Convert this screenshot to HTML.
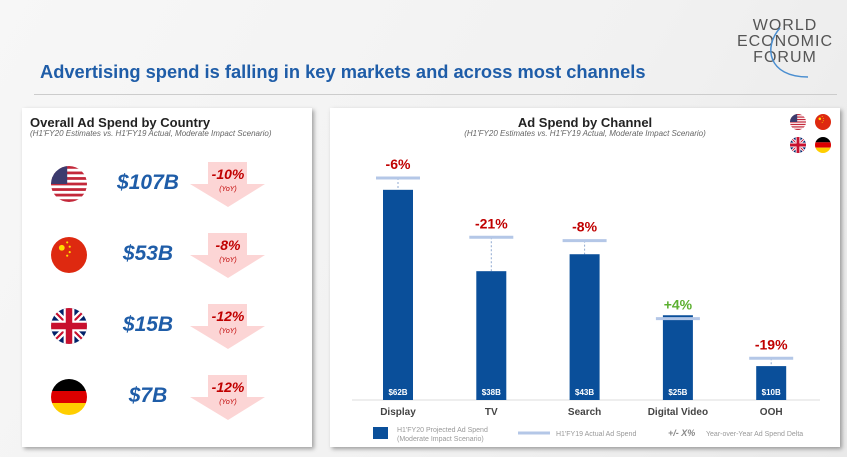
<!DOCTYPE html>
<html><head><meta charset="utf-8"><style>
body{margin:0;width:847px;height:457px;overflow:hidden;background:linear-gradient(120deg,#f7f7f7 0%,#f1f1f1 60%,#e9e9e9 100%);font-family:"Liberation Sans",sans-serif;position:relative}
.abs{position:absolute}
.panel{position:absolute;background:#fff;box-shadow:2px 2px 4px rgba(0,0,0,.35)}
.amt{position:absolute;left:76px;width:100px;text-align:center;color:#1f5da8;font-weight:bold;font-style:italic;font-size:21px}
</style></head><body>
<div class="abs" style="left:40px;top:61px;font-size:18.3px;font-weight:bold;color:#1f5da8">Advertising spend is falling in key markets and across most channels</div>
<div class="abs" style="left:34px;top:94px;width:803px;height:1px;background:#ccc"></div>
<div class="abs" style="left:728px;top:18px;width:114px;text-align:center;color:#555;font-size:16px;line-height:16px;letter-spacing:1px">WORLD<br>ECONOMIC<br>FORUM</div>
<svg class="abs" style="left:758px;top:22px" width="60" height="60"><path d="M22 6 C5 25 10 55 50 55" fill="none" stroke="#4a8ed0" stroke-width="1.5"/></svg>

<div class="panel" style="left:22px;top:108px;width:290px;height:339px">
<div class="abs" style="left:8px;top:7px;font-size:13px;font-weight:bold;color:#222">Overall Ad Spend by Country</div>
<div class="abs" style="left:8px;top:21px;font-size:8px;font-style:italic;color:#666">(H1'FY20 Estimates vs. H1'FY19 Actual, Moderate Impact Scenario)</div>
<div id="rows"></div>
</div>

<div class="panel" style="left:330px;top:108px;width:510px;height:339px">
<div class="abs" style="left:0;width:510px;text-align:center;top:7px;font-size:13px;font-weight:bold;color:#222">Ad Spend by Channel</div>
<div class="abs" style="left:0;width:510px;text-align:center;top:21px;font-size:8px;font-style:italic;color:#666">(H1'FY20 Estimates vs. H1'FY19 Actual, Moderate Impact Scenario)</div>
</div>

<svg class="abs" id="chart" style="left:0;top:0" width="847" height="457"></svg>

<script>
const countries=["US","China","UK","Germany"];
const spend=["$107B","$53B","$15B","$7B"];
const yoy=["-10%","-8%","-12%","-12%"];
const channels=["Display","TV","Search","Digital Video","OOH"];
const projected=[62,38,43,25,10];
const actual=[65.5,48,47,24,12.3];
const deltas=["-6%","-21%","-8%","+4%","-19%"];

const NS="http://www.w3.org/2000/svg";
function mk(t,a,p){const e=document.createElementNS(NS,t);for(const k in a)e.setAttribute(k,a[k]);p.appendChild(e);return e;}
const svg=document.getElementById('chart');
function flag(kind,cx,cy,r,id){
  const g=mk('g',{},svg);
  
  
  const cp=mk('clipPath',{id:id},g);mk('circle',{cx:cx,cy:cy,r:r},cp);
  const inner=mk('g',{'clip-path':'url(#'+id+')'},g);
  const x=cx-r,y=cy-r,d=2*r;
  if(kind==='US'){mk('rect',{x:x,y:y,width:d,height:d,fill:'#fff'},inner);
    for(let i=0;i<7;i++)mk('rect',{x:x,y:y+i*d/6.5,width:d,height:d/13,fill:'#c3283a'},inner);
    mk('rect',{x:x,y:y,width:d*0.45,height:d*0.5,fill:'#3c3b6e'},inner);}
  else if(kind==='China'){mk('rect',{x:x,y:y,width:d,height:d,fill:'#de2910'},inner);
    mk('circle',{cx:x+d*0.3,cy:y+d*0.3,r:d*0.08,fill:'#ffde00'},inner);
    [[.45,.15],[.52,.27],[.52,.42],[.45,.52]].forEach(p=>mk('circle',{cx:x+d*p[0],cy:y+d*p[1],r:d*0.03,fill:'#ffde00'},inner));}
  else if(kind==='UK'){mk('rect',{x:x,y:y,width:d,height:d,fill:'#012169'},inner);
    mk('path',{d:`M${x} ${y}L${x+d} ${y+d}M${x+d} ${y}L${x} ${y+d}`,stroke:'#fff','stroke-width':d*0.18},inner);
    mk('path',{d:`M${x} ${y}L${x+d} ${y+d}M${x+d} ${y}L${x} ${y+d}`,stroke:'#c8102e','stroke-width':d*0.06},inner);
    mk('path',{d:`M${cx} ${y}V${y+d}M${x} ${cy}H${x+d}`,stroke:'#fff','stroke-width':d*0.3},inner);
    mk('path',{d:`M${cx} ${y}V${y+d}M${x} ${cy}H${x+d}`,stroke:'#c8102e','stroke-width':d*0.18},inner);}
  else {mk('rect',{x:x,y:y,width:d,height:d/3,fill:'#000'},inner);mk('rect',{x:x,y:y+d/3,width:d,height:d/3,fill:'#dd0000'},inner);mk('rect',{x:x,y:y+2*d/3,width:d,height:d/3,fill:'#ffce00'},inner);}
}
const rows=document.getElementById('rows');
countries.forEach((c,i)=>{
  const cy=184+i*71;
  flag(c,69,cy,18,'f'+i);
  const a=document.createElement('div');a.className='amt';a.style.top=(cy-108-13)+'px';a.textContent=spend[i];
  
  
  rows.appendChild(a);
  const ar=mk('path',{d:`M208 ${cy-22}H247V${cy}H265L228 ${cy+23}L190 ${cy}H208Z`,fill:'#fcd5d5'},svg);
  
  
  const t=mk('text',{x:228,y:cy-5,'text-anchor':'middle','font-size':14,'font-weight':'bold','font-style':'italic',fill:'#c00000'},svg);t.textContent=yoy[i];
  
  
  const t2=mk('text',{x:228,y:cy+7,'text-anchor':'middle','font-size':7,'font-style':'italic',fill:'#c00000'},svg);t2.textContent='(YoY)';
  
  
});
flag('US',798,122,8,'s1');flag('China',823,122,8,'s2');flag('UK',798,145,8,'s3');flag('Germany',823,145,8,'s4');

const base=400,k=3.39,cx0=398,step=93.3,bw=30;
const X=i=>cx0+i*step, Y=v=>base-v*k;
const ax=mk('line',{x1:352,x2:820,y1:base,y2:base,stroke:'#ddd'},svg);


channels.forEach((c,i)=>{
  const x=X(i);
  const dl=mk('line',{x1:x,x2:x,y1:Y(actual[i]),y2:Y(projected[i]),stroke:'#8fa9d0','stroke-dasharray':'2,2'},svg);
  
  
  const b=mk('rect',{x:x-bw/2,y:Y(projected[i]),width:bw,height:projected[i]*k,fill:'#0a4f9a'},svg);
  
  
  const l=mk('line',{x1:x-22,x2:x+22,y1:Y(actual[i]),y2:Y(actual[i]),stroke:'#b4c7e7','stroke-width':3},svg);
  
  
  const v=mk('text',{x:x,y:base-5,'text-anchor':'middle','font-size':8,'font-weight':'bold',fill:'#fff'},svg);v.textContent='$'+projected[i]+'B';
  
  
  const d=mk('text',{x:x,y:Y(actual[i])-9,'text-anchor':'middle','font-size':14,'font-weight':'bold',fill:deltas[i][0]==='+'?'#5cb030':'#c00000'},svg);d.textContent=deltas[i];
  
  
  const cl=mk('text',{x:x,y:415,'text-anchor':'middle','font-size':10,'font-weight':'bold',fill:'#444'},svg);cl.textContent=c;
  
  
});
const lg=mk('g',{},svg);


mk('rect',{x:373,y:427,width:15,height:12,fill:'#0a4f9a'},lg);
let t=mk('text',{x:397,y:432,'font-size':7,fill:'#999'},lg);t.textContent="H1'FY20 Projected Ad Spend";
t=mk('text',{x:397,y:441,'font-size':7,fill:'#999'},lg);t.textContent="(Moderate Impact Scenario)";
mk('line',{x1:518,x2:550,y1:433,y2:433,stroke:'#b4c7e7','stroke-width':3},lg);
t=mk('text',{x:556,y:436,'font-size':7,fill:'#999'},lg);t.textContent="H1'FY19 Actual Ad Spend";
t=mk('text',{x:668,y:436,'font-size':9,'font-weight':'bold','font-style':'italic',fill:'#888'},lg);t.textContent="+/- X%";
t=mk('text',{x:706,y:436,'font-size':7,fill:'#999'},lg);t.textContent="Year-over-Year Ad Spend Delta";
</script>
</body></html>
